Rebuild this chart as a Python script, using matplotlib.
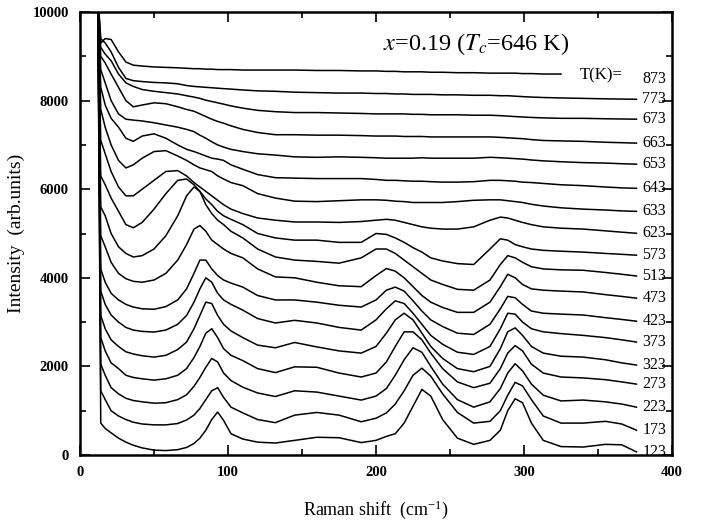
import numpy as np
import matplotlib
matplotlib.use('Agg')
from matplotlib import pyplot as plt
from matplotlib.ticker import MultipleLocator

plt.rcParams['font.family'] = ['Liberation Serif', 'DejaVu Serif']
plt.rcParams['mathtext.fontset'] = 'stix'

nan = np.nan

# Raman shift grid (cm^-1), shared by every spectrum
shift = [12, 14, 17, 21, 26, 31, 36, 42, 50, 58, 66, 72, 77, 81, 85, 89, 93, 97, 102, 110,
         120, 132, 145, 160, 175, 190, 200, 207, 213, 219, 225, 231, 237, 245, 255, 266, 277, 284, 289, 294,
         299, 305, 313, 325, 340, 355, 366, 376]

temps = [123, 173, 223, 273, 323, 373, 423, 473, 513, 573, 623, 633, 643, 653, 663, 673, 773, 873]

# intensities (already stacked as in the plot)
s123 = [10400, 720, 600, 500, 380, 290, 220, 160, 110, 100, 120, 170, 260, 380, 560, 800, 970, 780, 480, 360,
        290, 270, 330, 400, 390, 280, 330, 420, 480, 720, 1100, 1480, 1330, 800, 380, 240, 330, 560, 1000, 1270,
        1180, 720, 330, 190, 180, 240, 230, 70]
s173 = [10400, 1450, 1250, 1000, 880, 800, 740, 700, 680, 680, 710, 790, 900, 1050, 1250, 1450, 1520, 1300, 1080, 950,
        800, 730, 900, 960, 900, 750, 830, 950, 1150, 1450, 1800, 1960, 1780, 1380, 960, 720, 760, 1000, 1350, 1640,
        1560, 1250, 880, 720, 720, 760, 700, 560]
s223 = [10400, 2050, 1800, 1520, 1380, 1280, 1230, 1200, 1170, 1180, 1250, 1360, 1550, 1750, 1980, 2180, 2100, 1850, 1680, 1530,
        1400, 1320, 1450, 1420, 1330, 1240, 1330, 1500, 1800, 2150, 2420, 2320, 2000, 1600, 1250, 1080, 1200, 1500, 1850, 2060,
        1900, 1600, 1350, 1220, 1240, 1200, 1150, 1080]
s273 = [10400, 2650, 2350, 2080, 1950, 1800, 1750, 1720, 1690, 1720, 1800, 1950, 2200, 2450, 2750, 2850, 2650, 2400, 2250, 2130,
        1950, 1860, 1990, 1980, 1850, 1760, 1850, 2100, 2450, 2780, 2780, 2600, 2300, 1950, 1650, 1520, 1620, 1950, 2300, 2470,
        2350, 2050, 1850, 1760, 1740, 1700, 1650, 1600]
s323 = [10400, 3150, 2850, 2600, 2450, 2330, 2280, 2240, 2210, 2250, 2380, 2550, 2850, 3150, 3450, 3420, 3150, 2950, 2800, 2650,
        2480, 2420, 2540, 2440, 2350, 2300, 2450, 2750, 3050, 3200, 3050, 2750, 2450, 2180, 1950, 1880, 2000, 2400, 2780, 2870,
        2700, 2450, 2300, 2230, 2210, 2150, 2080, 2030]
s373 = [10400, 3700, 3400, 3160, 3000, 2880, 2820, 2790, 2775, 2820, 2950, 3150, 3450, 3750, 4000, 3900, 3650, 3500, 3400, 3270,
        3080, 2980, 3040, 2980, 2880, 2820, 3050, 3300, 3480, 3420, 3200, 2950, 2700, 2500, 2320, 2270, 2450, 2850, 3200, 3180,
        3000, 2850, 2780, 2740, 2700, 2650, 2600, 2550]
s423 = [10400, 4200, 3900, 3650, 3500, 3400, 3340, 3300, 3290, 3350, 3500, 3750, 4100, 4400, 4400, 4200, 4050, 3950, 3880, 3790,
        3600, 3500, 3500, 3450, 3380, 3340, 3500, 3720, 3790, 3700, 3480, 3250, 3050, 2900, 2750, 2720, 2950, 3300, 3580, 3550,
        3400, 3250, 3200, 3180, 3160, 3100, 3060, 3020]
s473 = [10400, 4950, 4700, 4350, 4100, 3980, 3920, 3900, 3950, 4100, 4400, 4750, 5100, 5180, 5050, 4850, 4750, 4650, 4550, 4450,
        4200, 4020, 4000, 3900, 3820, 3800, 4050, 4210, 4150, 4000, 3800, 3600, 3450, 3330, 3220, 3220, 3450, 3800, 4080, 4000,
        3850, 3750, 3720, 3700, 3680, 3620, 3580, 3540]
s513 = [10400, 5600, 5400, 5000, 4700, 4550, 4470, 4500, 4650, 4950, 5400, 5850, 6050, 5950, 5650, 5450, 5300, 5200, 5050, 4900,
        4650, 4470, 4400, 4370, 4330, 4450, 4650, 4650, 4550, 4400, 4250, 4100, 3950, 3850, 3740, 3720, 3950, 4300, 4500, 4450,
        4350, 4250, 4200, 4180, 4170, 4120, 4080, 4040]
s573 = [10400, 6300, 6100, 5800, 5500, 5200, 5130, 5250, 5550, 5900, 6200, 6230, 6100, 5950, 5780, 5650, 5500, 5400, 5320, 5200,
        5000, 4900, 4850, 4850, 4800, 4800, 5000, 4980, 4900, 4800, 4680, 4580, 4450, 4380, 4320, 4300, 4650, 4880, 4850, 4750,
        4700, 4650, 4620, 4600, 4580, 4550, 4530, 4510]
s623 = [10400, 7100, 6800, 6400, 6050, 5850, 5850, 6000, 6200, 6400, 6420, 6300, 6150, 6050, 5950, 5850, 5750, 5650, 5550, 5450,
        5350, 5300, 5260, 5260, 5250, 5270, 5300, 5320, 5300, 5250, 5200, 5150, 5120, 5100, 5100, 5150, 5300, 5370, 5350, 5300,
        5250, 5200, 5150, 5120, 5100, 5060, 5030, 5005]
s633 = [10400, 7800, 7400, 7000, 6650, 6480, 6550, 6700, 6850, 6870, 6750, 6650, 6550, 6480, 6440, 6400, 6300, 6230, 6150, 6080,
        5900, 5800, 5730, 5720, 5740, 5760, 5760, 5750, 5730, 5720, 5700, 5700, 5700, 5700, 5720, 5750, 5760, 5760, 5740, 5720,
        5700, 5660, 5620, 5580, 5550, 5530, 5510, 5500]
s643 = [10400, 8300, 7900, 7600, 7400, 7150, 7080, 7200, 7250, 7150, 7000, 6900, 6850, 6800, 6750, 6700, 6680, 6650, 6550, 6450,
        6330, 6260, 6250, 6240, 6240, 6240, 6220, 6200, 6200, 6190, 6180, 6180, 6170, 6160, 6160, 6170, 6200, 6200, 6190, 6180,
        6160, 6150, 6130, 6100, 6080, 6050, 6030, 6020]
s653 = [10400, 8700, 8400, 8000, 7700, 7580, 7560, 7540, 7500, 7450, 7400, 7350, 7300, 7220, 7150, 7070, 7000, 6950, 6900, 6850,
        6800, 6770, 6730, 6720, 6730, 6720, 6710, 6700, 6700, 6700, 6700, 6710, 6700, 6700, 6700, 6700, 6720, 6710, 6700, 6690,
        6680, 6660, 6640, 6620, 6600, 6590, 6575, 6565]
s663 = [10400, 9000, 8850, 8600, 8300, 8000, 7860, 7900, 7950, 7930, 7860, 7800, 7760, 7700, 7640, 7580, 7530, 7490, 7430, 7350,
        7280, 7230, 7230, 7220, 7220, 7210, 7200, 7200, 7200, 7190, 7190, 7190, 7180, 7180, 7180, 7180, 7180, 7170, 7160, 7150,
        7140, 7120, 7100, 7090, 7080, 7060, 7050, 7040]
s673 = [10400, 9200, 9050, 8900, 8600, 8400, 8320, 8250, 8210, 8180, 8150, 8110, 8080, 8050, 8010, 7980, 7950, 7920, 7880, 7830,
        7780, 7750, 7730, 7730, 7720, 7710, 7700, 7700, 7700, 7700, 7690, 7690, 7680, 7680, 7680, 7670, 7670, 7660, 7650, 7640,
        7630, 7620, 7610, 7600, 7600, 7590, 7585, 7580]
s773 = [10400, 9400, 9300, 9100, 8750, 8500, 8450, 8430, 8410, 8400, 8380, 8340, 8320, 8310, 8300, 8290, 8280, 8270, 8260, 8240,
        8220, 8210, 8190, 8180, 8170, 8170, 8160, 8160, 8150, 8150, 8140, 8140, 8140, 8130, 8130, 8120, 8120, 8110, 8110, 8100,
        8090, 8080, 8070, 8060, 8050, 8040, 8035, 8030]
s873 = [10400, 9300, 9400, 9380, 9100, 8870, 8800, 8780, 8760, 8750, 8740, 8730, 8720, 8720, 8710, 8710, 8700, 8700, 8700, 8690,
        8690, 8690, 8690, 8680, 8680, 8670, 8670, 8660, 8660, 8650, 8650, 8650, 8640, 8640, 8630, 8630, 8620, 8620, 8620, 8620,
        8610, 8610, 8600, 8600, nan, nan, nan, nan]

spectra = [s123, s173, s223, s273, s323, s373, s423, s473, s513, s573,
           s623, s633, s643, s653, s663, s673, s773, s873]

fig = plt.figure(figsize=(7.07, 5.29), dpi=100)
ax = fig.add_axes([0.1132, 0.1399, 0.8373, 0.8374])

for t, s in zip(temps, spectra):
    s = np.asarray(s, dtype=float)
    ax.plot(shift, s, color='black', linewidth=1.1)
    last = s[np.isfinite(s)][-1]
    if t == 873:
        ax.text(338, last - 20, 'T(K)=', fontsize=12, va='center', ha='left')
        ax.text(380, last - 120, str(t), fontsize=11.5, va='center', ha='left')
    else:
        ax.text(380, last, str(t), fontsize=11.5, va='center', ha='left')

ax.set_xlim(0, 400)
ax.set_ylim(0, 10000)
ax.xaxis.set_major_locator(MultipleLocator(100))
ax.xaxis.set_minor_locator(MultipleLocator(50))
ax.yaxis.set_major_locator(MultipleLocator(2000))
ax.yaxis.set_minor_locator(MultipleLocator(1000))
ax.tick_params(which='both', direction='in', top=True, right=True, width=1.2)
ax.tick_params(which='major', length=7, pad=8)
ax.tick_params(which='minor', length=4)
for lab in ax.get_xticklabels() + ax.get_yticklabels():
    lab.set_fontweight('bold')
    lab.set_fontsize(10.5)
for sp in ax.spines.values():
    sp.set_linewidth(1.8)

ax.text(0.669, 0.928, r'$x$=0.19 ($T_c$=646 K)', transform=ax.transAxes,
        fontsize=17.5, ha='center', va='center')
ax.set_xlabel(r'Raman shift  (cm$^{\mathregular{-1}}$)', fontsize=13, labelpad=14)
ax.set_ylabel('Intensity  (arb.units)', fontsize=14)
ax.yaxis.set_label_coords(-0.093, 0.5)

plt.savefig('out.png', dpi=100)
